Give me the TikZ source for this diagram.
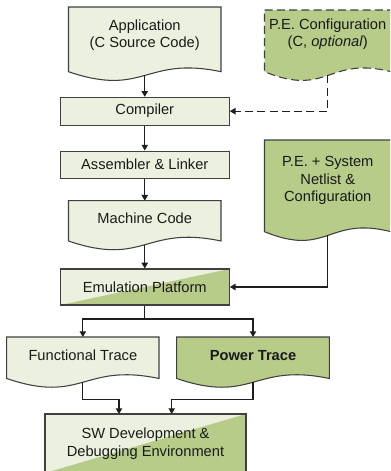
\documentclass[tikz,border=0pt]{standalone}
\usepackage{fontspec}
\setmainfont{Liberation Sans}
\usetikzlibrary{arrows.meta}

\definecolor{palefill}{HTML}{EBF1DE}
\definecolor{olivefill}{HTML}{B8CC8A}
\definecolor{edgegray}{HTML}{404040}
\definecolor{wire}{HTML}{1E1E1E}
\definecolor{ink}{HTML}{1A1A1A}

% Document symbol: flat top, wavy bottom edge.
% #1 extra style, #2 left, #3 top, #4 right, #5 bottom (at the side edges)
\newcommand\docshape[5][]{%
  \path[docedge,#1] (#2,#3) -- (#4,#3) -- (#4,#5)
    .. controls ({(#2+#4)/2},{#5-16}) and ({(#2+#4)/2},{#5+26}) .. (#2,#5) -- cycle;}

\tikzset{
  docedge/.style={draw=edgegray, line width=0.8pt, fill=palefill},
  box/.style={draw=edgegray, line width=0.8pt, fill=palefill, inner sep=0pt,
    text=ink, align=center},
  halfgreen/.style={path picture={
    \fill[olivefill] (path picture bounding box.south west)
      -- (path picture bounding box.north east)
      -- (path picture bounding box.south east) -- cycle;}},
  label/.style={text=ink, align=center, inner sep=0pt},
  flow/.style={draw=wire, line width=0.9pt, -{Triangle[length=4.3pt,width=4.8pt]}},
  link/.style={draw=wire, line width=0.9pt},
}

\begin{document}
\begin{tikzpicture}[x=0.75pt, y=-0.75pt, font=\fontsize{11}{13.1}\selectfont]
\useasboundingbox (0,0) rectangle (390,471);
\clip (0,0) rectangle (390,471);

% ---- document symbols ----
\docshape{68.5}{7}{221}{71.7}
\docshape[fill=olivefill, dash pattern=on 6pt off 3.2pt]{264.5}{10}{391}{71.7}
\docshape{68.5}{200.7}{221}{241}
\docshape[fill=olivefill]{264.5}{140}{391}{231.7}
\docshape{6.7}{337}{159}{378.5}
\docshape[fill=olivefill]{176.7}{337}{329.3}{378.5}

\node[label] (app)  at (144.75,35)  {Application\\(C Source Code)};
\node[label] (pec)  at (327.75,34)  {P.E. Configuration\\(C, \textit{optional})};
\node[label] (mc)   at (144.75,218) {Machine Code};
\node[label] (net)  at (327.75,180.5) {P.E. + System\\Netlist \&\\Configuration};
\node[label] (ft)   at (82.85,355.5)  {Functional Trace};
\node[label] (pt)   at (253,355.5)    {\textbf{Power Trace}};

% connector end points on the document symbols
\coordinate (appb) at (144.75,75.4);
\coordinate (pecb) at (327.75,75.4);
\coordinate (mct)  at (144.75,200.7);
\coordinate (mcb)  at (144.75,244.7);
\coordinate (netb) at (327.75,235.4);
\coordinate (ftt)  at (82.85,337);
\coordinate (ftb)  at (82.85,382.2);
\coordinate (ptt)  at (253,337);
\coordinate (ptb)  at (253,382.2);

% ---- process boxes ----
\node[box, minimum width=126.75pt, minimum height=20.8pt] (comp) at (144.75,111.2) {Compiler};
\node[box, minimum width=126.75pt, minimum height=20.5pt] (asm)  at (144.75,164.7) {Assembler \& Linker};
\node[box, halfgreen, minimum width=126.75pt, minimum height=27pt] (emu) at (144.75,287) {Emulation Platform};
\node[box, halfgreen, minimum width=150.75pt, minimum height=44.25pt] (sw) at (145.5,443.5)
  {SW Development \&\\Debugging Environment};

\coordinate (split) at (144.75,319);
\coordinate (swl) at (119,414);
\coordinate (swr) at (171.7,414);

% ---- connectors ----
\draw[flow] (appb) -- (comp.north);
\draw[flow] (comp.south) -- (asm.north);
\draw[flow] (asm.south) -- (mct);
\draw[flow] (mcb) -- (emu.north);
\draw[flow, dash pattern=on 6pt off 3.2pt] (pecb) |- (comp.east);
\draw[flow] (netb) |- (emu.east);
\draw[link] (emu.south) -- (split);
\draw[flow] (split) -| (ftt);
\draw[flow] (split) -| (ptt);
\draw[flow] (ftb) -- ++(0,17) -| (swl);
\draw[flow] (ptb) -- ++(0,17) -| (swr);
\end{tikzpicture}
\end{document}
